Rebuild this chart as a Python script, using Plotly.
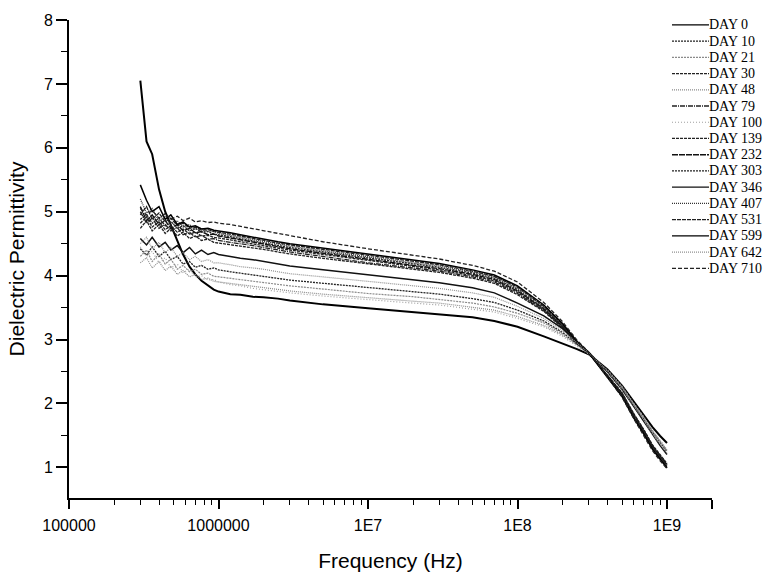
import plotly.graph_objects as go

# Frequency grid (Hz)
freq = [3.0e5, 3.3e5, 3.6e5, 4.0e5, 4.4e5, 4.8e5, 5.3e5, 5.8e5, 6.4e5, 7.0e5, 7.7e5, 8.5e5, 9.3e5,
        1.0e6, 1.2e6, 1.4e6, 1.7e6, 2.0e6, 2.5e6, 3.0e6, 5.0e6, 1.0e7, 2.0e7, 3.0e7, 5.0e7, 7.0e7,
        1.0e8, 1.5e8, 2.0e8, 2.5e8, 3.0e8, 4.0e8, 5.0e8, 6.0e8, 7.0e8, 8.0e8, 9.0e8, 1.0e9]

day_0 = [7.05, 6.1, 5.9, 5.35, 5.0, 4.78, 4.53, 4.33, 4.14, 4.02, 3.92, 3.84, 3.78,
         3.75, 3.71, 3.7, 3.67, 3.66, 3.64, 3.61, 3.55, 3.49, 3.43, 3.4, 3.35, 3.29,
         3.2, 3.05, 2.94, 2.85, 2.77, 2.53, 2.28, 2.03, 1.83, 1.63, 1.49, 1.38]
day_10 = [4.42, 4.32, 4.45, 4.3, 4.38, 4.25, 4.3, 4.18, 4.22, 4.13, 4.16, 4.1, 4.12,
          4.09, 4.06, 4.04, 4.01, 3.99, 3.96, 3.93, 3.88, 3.81, 3.75, 3.71, 3.64, 3.58,
          3.46, 3.29, 3.11, 2.93, 2.78, 2.5, 2.24, 1.97, 1.75, 1.54, 1.38, 1.24]
day_21 = [4.3, 4.4, 4.22, 4.34, 4.18, 4.26, 4.1, 4.16, 4.06, 4.1, 4.02, 4.04, 3.99,
          3.98, 3.96, 3.94, 3.91, 3.89, 3.86, 3.84, 3.79, 3.72, 3.67, 3.63, 3.57, 3.51,
          3.41, 3.26, 3.09, 2.92, 2.78, 2.51, 2.25, 1.98, 1.77, 1.56, 1.4, 1.26]
day_30 = [4.74, 4.86, 4.7, 4.8, 4.66, 4.74, 4.62, 4.68, 4.58, 4.62, 4.55, 4.57, 4.52,
          4.51, 4.48, 4.46, 4.43, 4.41, 4.37, 4.34, 4.27, 4.18, 4.1, 4.05, 3.96, 3.88,
          3.7, 3.44, 3.18, 2.93, 2.79, 2.44, 2.17, 1.84, 1.59, 1.35, 1.19, 1.06]
day_48 = [4.2, 4.28, 4.12, 4.22, 4.08, 4.15, 4.02, 4.08, 3.98, 4.02, 3.94, 3.96, 3.91,
          3.9, 3.88, 3.86, 3.83, 3.81, 3.78, 3.76, 3.71, 3.65, 3.6, 3.57, 3.51, 3.46,
          3.36, 3.22, 3.07, 2.91, 2.78, 2.51, 2.26, 1.99, 1.78, 1.57, 1.41, 1.27]
day_79 = [5.0, 4.82, 4.9, 4.74, 4.8, 4.7, 4.75, 4.64, 4.68, 4.6, 4.63, 4.57, 4.58,
          4.55, 4.52, 4.5, 4.47, 4.44, 4.4, 4.37, 4.3, 4.2, 4.12, 4.07, 3.98, 3.9,
          3.72, 3.45, 3.19, 2.94, 2.79, 2.44, 2.16, 1.83, 1.58, 1.34, 1.18, 1.05]
day_100 = [4.45, 4.3, 4.38, 4.2, 4.28, 4.12, 4.18, 4.05, 4.1, 3.98, 4.0, 3.93, 3.94,
           3.9, 3.86, 3.84, 3.8, 3.78, 3.75, 3.73, 3.68, 3.62, 3.57, 3.54, 3.48, 3.43,
           3.33, 3.2, 3.05, 2.9, 2.77, 2.52, 2.27, 2.0, 1.79, 1.58, 1.42, 1.28]
day_139 = [4.82, 4.92, 4.76, 4.84, 4.72, 4.78, 4.68, 4.73, 4.65, 4.68, 4.62, 4.63, 4.6,
           4.59, 4.56, 4.53, 4.5, 4.47, 4.43, 4.4, 4.33, 4.23, 4.14, 4.09, 4.0, 3.92,
           3.74, 3.46, 3.2, 2.94, 2.79, 2.43, 2.15, 1.82, 1.57, 1.33, 1.17, 1.04]
day_232 = [5.08, 4.86, 4.95, 4.8, 4.86, 4.74, 4.8, 4.7, 4.74, 4.67, 4.69, 4.64, 4.65,
           4.62, 4.59, 4.56, 4.52, 4.49, 4.45, 4.42, 4.35, 4.25, 4.16, 4.11, 4.02, 3.94,
           3.76, 3.48, 3.21, 2.95, 2.79, 2.43, 2.15, 1.81, 1.56, 1.32, 1.16, 1.03]
day_303 = [4.88, 4.96, 4.82, 4.9, 4.78, 4.85, 4.74, 4.78, 4.7, 4.74, 4.68, 4.69, 4.65,
           4.64, 4.61, 4.58, 4.54, 4.51, 4.47, 4.44, 4.37, 4.27, 4.18, 4.13, 4.04, 3.96,
           3.78, 3.49, 3.22, 2.95, 2.79, 2.42, 2.14, 1.8, 1.55, 1.31, 1.15, 1.02]
day_346 = [4.58, 4.48, 4.6, 4.45, 4.52, 4.4, 4.47, 4.36, 4.44, 4.34, 4.4, 4.33, 4.36,
           4.33, 4.3, 4.27, 4.25, 4.22, 4.18, 4.15, 4.09, 4.01, 3.94, 3.89, 3.81, 3.73,
           3.57, 3.37, 3.17, 2.96, 2.8, 2.49, 2.22, 1.95, 1.72, 1.5, 1.34, 1.2]
day_407 = [5.2, 4.98, 5.05, 4.85, 4.92, 4.8, 4.86, 4.76, 4.8, 4.72, 4.74, 4.69, 4.7,
           4.66, 4.63, 4.6, 4.56, 4.53, 4.49, 4.46, 4.39, 4.29, 4.2, 4.15, 4.06, 3.98,
           3.8, 3.51, 3.23, 2.96, 2.79, 2.42, 2.13, 1.79, 1.54, 1.3, 1.14, 1.01]
day_531 = [4.95, 5.08, 4.88, 4.98, 4.84, 4.9, 4.78, 4.82, 4.74, 4.76, 4.71, 4.72, 4.69,
           4.68, 4.65, 4.62, 4.58, 4.55, 4.51, 4.48, 4.41, 4.31, 4.22, 4.17, 4.07, 3.99,
           3.82, 3.52, 3.24, 2.96, 2.79, 2.41, 2.12, 1.78, 1.53, 1.29, 1.13, 1.0]
day_599 = [5.42, 5.18, 5.0, 5.08, 4.88, 4.95, 4.8, 4.84, 4.76, 4.78, 4.73, 4.74, 4.71,
           4.7, 4.67, 4.64, 4.6, 4.57, 4.53, 4.5, 4.43, 4.34, 4.24, 4.19, 4.09, 4.01,
           3.84, 3.54, 3.25, 2.97, 2.79, 2.41, 2.11, 1.77, 1.52, 1.28, 1.12, 0.99]
day_642 = [4.5, 4.6, 4.42, 4.52, 4.36, 4.44, 4.3, 4.36, 4.25, 4.3, 4.22, 4.25, 4.2,
           4.2, 4.17, 4.14, 4.12, 4.1, 4.06, 4.03, 3.98, 3.91, 3.85, 3.8, 3.73, 3.66,
           3.52, 3.33, 3.14, 2.94, 2.79, 2.5, 2.23, 1.96, 1.74, 1.52, 1.36, 1.22]
day_710 = [5.05, 4.95, 5.02, 4.9, 4.97, 4.88, 4.93, 4.86, 4.9, 4.84, 4.86, 4.83, 4.84,
           4.82, 4.8, 4.77, 4.74, 4.7, 4.66, 4.62, 4.53, 4.42, 4.32, 4.26, 4.16, 4.07,
           3.9, 3.58, 3.28, 2.99, 2.8, 2.4, 2.1, 1.76, 1.5, 1.26, 1.1, 0.98]

series_names = ["DAY 0", "DAY 10", "DAY 21", "DAY 30", "DAY 48", "DAY 79", "DAY 100", "DAY 139",
                "DAY 232", "DAY 303", "DAY 346", "DAY 407", "DAY 531", "DAY 599", "DAY 642", "DAY 710"]
series_values = [day_0, day_10, day_21, day_30, day_48, day_79, day_100, day_139,
                 day_232, day_303, day_346, day_407, day_531, day_599, day_642, day_710]

x_tick_vals = [1e5, 1e6, 1e7, 1e8, 1e9, 2e9]
x_tick_text = ["100000", "1000000", "1E7", "1E8", "1E9", ""]
y_tick_vals = [1, 2, 3, 4, 5, 6, 7, 8]

# styles (color, dash, width)
styles = [
    ("#000000", "solid", 2.0),
    ("#222222", "2px,1px", 1.3),
    ("#8a8a8a", "2px,1px", 1.2),
    ("#222222", "3px,1px", 1.3),
    ("#8a8a8a", "1px,1px", 1.2),
    ("#222222", "5px,1px,1px,1px", 1.3),
    ("#a0a0a0", "1px,2px", 1.2),
    ("#222222", "3px,1px", 1.3),
    ("#111111", "6px,1px", 1.4),
    ("#222222", "2px,1px", 1.3),
    ("#111111", "solid", 1.5),
    ("#333333", "1px,1px", 1.3),
    ("#222222", "4px,1px", 1.3),
    ("#000000", "solid", 1.5),
    ("#909090", "1px,1px", 1.2),
    ("#222222", "4px,2px", 1.3),
]

fig = go.Figure()
for i in range(16):
    c, d, w = styles[i]
    fig.add_trace(go.Scatter(
        x=freq, y=series_values[i], mode="lines", name=series_names[i],
        line=dict(color=c, dash=d, width=w), showlegend=False))

# legend drawn as shapes + text (pixel layout of the original legend block)
L_MARGIN, T_MARGIN, PLOT_W, PLOT_H = 69, 14, 643, 489
def px_to_paper(px, py):
    return (px - L_MARGIN) / PLOT_W, (T_MARGIN + PLOT_H - py) / PLOT_H

for i, name in enumerate(series_names):
    c, d, w = styles[i]
    py = 19 + i * 16.6
    x0, yy = px_to_paper(672, py)
    x1, _ = px_to_paper(709, py)
    fig.add_shape(type="line", xref="paper", yref="paper", x0=x0, x1=x1, y0=yy, y1=yy,
                  line=dict(color=c, dash=d, width=min(w, 1.4)))
    xt, _ = px_to_paper(709, py)
    fig.add_annotation(xref="paper", yref="paper", x=xt, y=yy, text=name, showarrow=False,
                       xanchor="left", yanchor="middle", xshift=-2,
                       font=dict(family="Liberation Serif, Times New Roman, serif", size=14, color="black"))

minor_x = []
for dec in [1e5, 1e6, 1e7, 1e8]:
    for m in range(2, 10):
        minor_x.append(m * dec)

fig.update_layout(
    width=776, height=581,
    margin=dict(l=L_MARGIN, r=776 - L_MARGIN - PLOT_W, t=T_MARGIN, b=581 - T_MARGIN - PLOT_H),
    plot_bgcolor="white", paper_bgcolor="white",
    font=dict(family="Arial, Liberation Sans, sans-serif", color="black"),
    showlegend=False,
    xaxis=dict(
        type="log", range=[5, 9.301],
        tickvals=x_tick_vals, ticktext=x_tick_text,
        ticks="outside", ticklen=9, tickwidth=1.5, tickcolor="black",
        showline=True, linecolor="black", linewidth=1.6, showgrid=False, zeroline=False,
        tickfont=dict(size=16), ticklabelstandoff=3,
        minor=dict(tickvals=minor_x, ticks="outside", ticklen=5, tickwidth=1.2, tickcolor="black", showgrid=False),
        title=dict(text="Frequency (Hz)", font=dict(size=21), standoff=20),
    ),
    yaxis=dict(
        range=[0.52, 8],
        tickvals=y_tick_vals,
        ticks="outside", ticklen=11, tickwidth=1.5, tickcolor="black",
        showline=True, linecolor="black", linewidth=1.6, showgrid=False, zeroline=False,
        tickfont=dict(size=16),
        minor=dict(dtick=0.5, tick0=0, ticks="outside", ticklen=6, tickwidth=1.2, tickcolor="black", showgrid=False),
        title=dict(text="Dielectric Permittivity", font=dict(size=21), standoff=14),
    ),
)

fig.write_html("out.html")
